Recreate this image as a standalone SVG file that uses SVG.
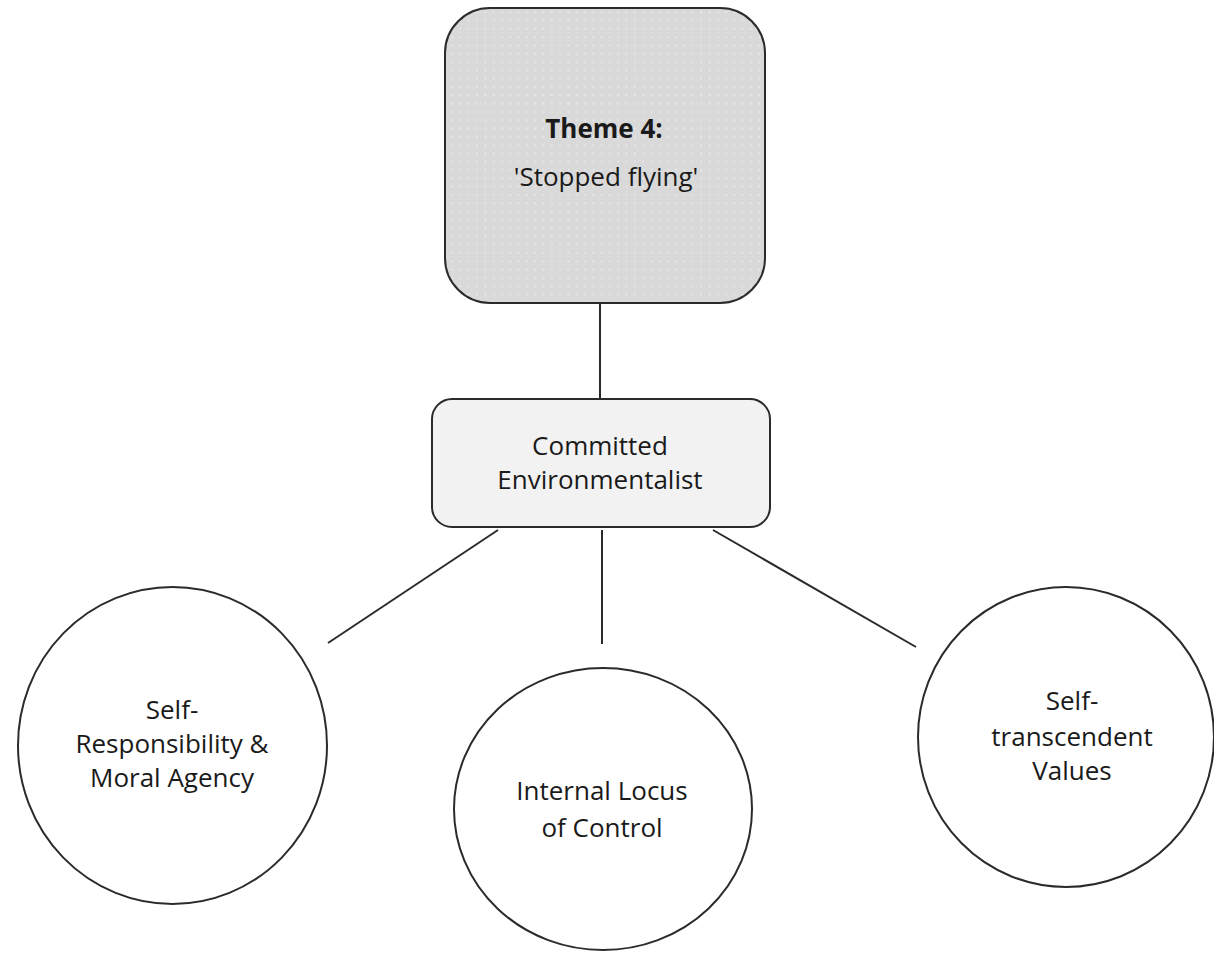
<svg xmlns="http://www.w3.org/2000/svg" width="1214" height="953" viewBox="0 0 1214 953">
  <style>
    .box { stroke: #2b2b2b; stroke-width: 2; }
    .circ { fill: #ffffff; stroke: #2b2b2b; stroke-width: 2; }
    .edge { stroke: #2b2b2b; stroke-width: 2; fill: none; }
    text { font-family: "Open Sans", "Noto Sans", sans-serif; font-size: 26px; fill: #1a1a1a; text-anchor: middle; }
    .bold { font-weight: bold; }
  </style>
  <defs>
    <pattern id="dots" width="8.3" height="8.3" patternUnits="userSpaceOnUse">
      <rect width="8.3" height="8.3" fill="#d9d9d9"/>
      <circle cx="4" cy="4" r="0.8" fill="#f2f2f2"/>
    </pattern>
  </defs>
  <rect width="1214" height="953" fill="#ffffff"/>

  <g id="connectors">
    <line class="edge" x1="600" y1="303" x2="600" y2="399"/>
    <line class="edge" x1="498" y1="530" x2="328" y2="643"/>
    <line class="edge" x1="602" y1="530" x2="602" y2="644"/>
    <line class="edge" x1="713" y1="530" x2="916" y2="647"/>
  </g>

  <g id="theme4">
    <rect class="box" x="445" y="8" width="320" height="295" rx="45" fill="url(#dots)"/>
    <text class="bold" x="604" y="138">Theme 4:</text>
    <text x="606" y="186">'Stopped flying'</text>
  </g>

  <g id="committed">
    <rect class="box" x="432" y="399" width="338" height="128" rx="20" fill="#f2f2f2"/>
    <text x="600" y="455">Committed</text>
    <text x="600" y="489">Environmentalist</text>
  </g>

  <g id="self-responsibility">
    <ellipse class="circ" cx="172.5" cy="745.5" rx="154.5" ry="158.5"/>
    <text x="172" y="719">Self-</text>
    <text x="172" y="753">Responsibility &amp;</text>
    <text x="172" y="787">Moral Agency</text>
  </g>

  <g id="locus-of-control">
    <ellipse class="circ" cx="603" cy="809" rx="149" ry="141"/>
    <text x="602" y="800">Internal Locus</text>
    <text x="602" y="837">of Control</text>
  </g>

  <g id="self-transcendent">
    <ellipse class="circ" cx="1066" cy="737" rx="148" ry="150"/>
    <text x="1072" y="710">Self-</text>
    <text x="1072" y="746">transcendent</text>
    <text x="1072" y="780">Values</text>
  </g>
</svg>
